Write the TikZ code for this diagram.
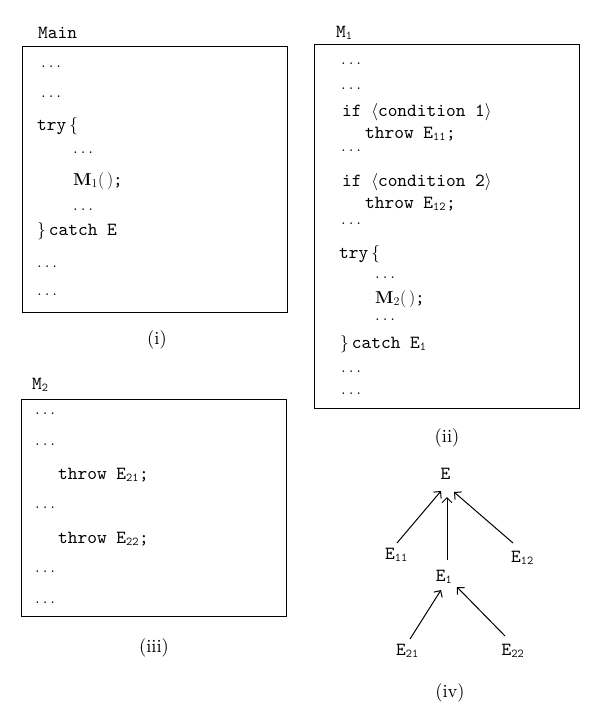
\documentclass[tikz,border=0pt]{standalone}
\usepackage[no-math]{fontspec}
\setmainfont{lmroman10-regular.otf}
\setmonofont{lmmono10-regular.otf}
\usetikzlibrary{arrows.meta}
\begin{document}
\begin{tikzpicture}[x=1pt,y=-1pt,
  code/.style={anchor=base west,inner sep=0pt,font=\fontsize{18.5}{22}\selectfont\ttfamily},
  capt/.style={anchor=center,inner sep=0pt,font=\fontsize{18.5}{22}\selectfont\rmfamily},
  frame/.style={draw,line width=1.4pt,anchor=north west,inner sep=0pt},
  tnode/.style={anchor=base,inner sep=0pt,font=\fontsize{18.5}{22}\selectfont\ttfamily},
  arr/.style={line width=1pt,-{Straight Barb[length=5pt,width=10pt]}}]
\useasboundingbox (0,0) rectangle (600,726);
\newcommand{\dd}{$\ldots$}
% (i) Main
\node[code] (lMain) at (38,38) {Main};
\node[frame,minimum width=265pt,minimum height=266pt] (boxI) at (22,46) {};
\node[code] (a1) at (41,67) {\dd};
\node[code] (a2) at (41,97) {\dd};
\node[code] (a3) at (37,130) {try\,$\{$};
\node[code] (a4) at (73,153) {\dd};
\node[code] (a5) at (73,185) {$\mathbf{M}_1(\,)$;};
\node[code] (a6) at (73,210) {\dd};
\node[code] (a7) at (37,235) {$\}$\,catch E};
\node[code] (a8) at (37,267) {\dd};
\node[code] (a9) at (37,295) {\dd};
\node[capt] (cI) at (157,340) {(i)};
% (ii) M1
\node[code] (lM1) at (336,37) {M$_{\mathtt{1}}$};
\node[frame,minimum width=265pt,minimum height=364pt] (boxII) at (314,44) {};
\node[code] (b1) at (341,64) {\dd};
\node[code] (b2) at (341,89) {\dd};
\node[code] (b3) at (342,116) {if $\langle$condition 1$\rangle$};
\node[code] (b4) at (365,138) {throw E$_{\mathtt{11}}$;};
\node[code] (b5) at (341,151) {\dd};
\node[code] (b6) at (342,186) {if $\langle$condition 2$\rangle$};
\node[code] (b7) at (365,208) {throw E$_{\mathtt{12}}$;};
\node[code] (b8) at (341,224) {\dd};
\node[code] (b9) at (339,258) {try\,$\{$};
\node[code] (b10) at (375,278) {\dd};
\node[code] (b11) at (375,303) {$\mathbf{M}_2(\,)$;};
\node[code] (b12) at (375,320) {\dd};
\node[code] (b13) at (340,348) {$\}$\,catch E$_{\mathtt{1}}$};
\node[code] (b14) at (341,372) {\dd};
\node[code] (b15) at (341,394) {\dd};
\node[capt] (cII) at (447,438) {(ii)};
% (iii) M2
\node[code] (lM2) at (32,389) {M$_{\mathtt{2}}$};
\node[frame,minimum width=265pt,minimum height=217pt] (boxIII) at (21,399) {};
\node[code] (c1) at (35,414) {\dd};
\node[code] (c2) at (35,445) {\dd};
\node[code] (c3) at (58,479) {throw E$_{\mathtt{21}}$;};
\node[code] (c4) at (35,508) {\dd};
\node[code] (c5) at (58,543) {throw E$_{\mathtt{22}}$;};
\node[code] (c6) at (35,572) {\dd};
\node[code] (c7) at (35,603) {\dd};
\node[capt] (cIII) at (154,648) {(iii)};
% (iv) tree
\node[tnode] (E) at (445.5,479) {E};
\node[tnode] (E11) at (396.5,559) {E$_{\mathtt{11}}$};
\node[tnode] (E12) at (522.5,562) {E$_{\mathtt{12}}$};
\node[tnode] (E1) at (444,581) {E$_{\mathtt{1}}$};
\node[tnode] (E21) at (407.5,655) {E$_{\mathtt{21}}$};
\node[tnode] (E22) at (513,655) {E$_{\mathtt{22}}$};
\draw[arr] ([shift={(0.5,-16)}]E11.base) -- ([shift={(-4.5,12)}]E.base);
\draw[arr] ([shift={(3,-21)}]E1.base) -- ([shift={(1.5,18)}]E.base);
\draw[arr] ([shift={(-9.5,-19)}]E12.base) -- ([shift={(8.5,13)}]E.base);
\draw[arr] ([shift={(2.5,-16)}]E21.base) -- ([shift={(-3,9)}]E1.base);
\draw[arr] ([shift={(-8,-19)}]E22.base) -- ([shift={(13,6)}]E1.base);
\node[capt] (cIV) at (450,693) {(iv)};
\end{tikzpicture}
\end{document}
